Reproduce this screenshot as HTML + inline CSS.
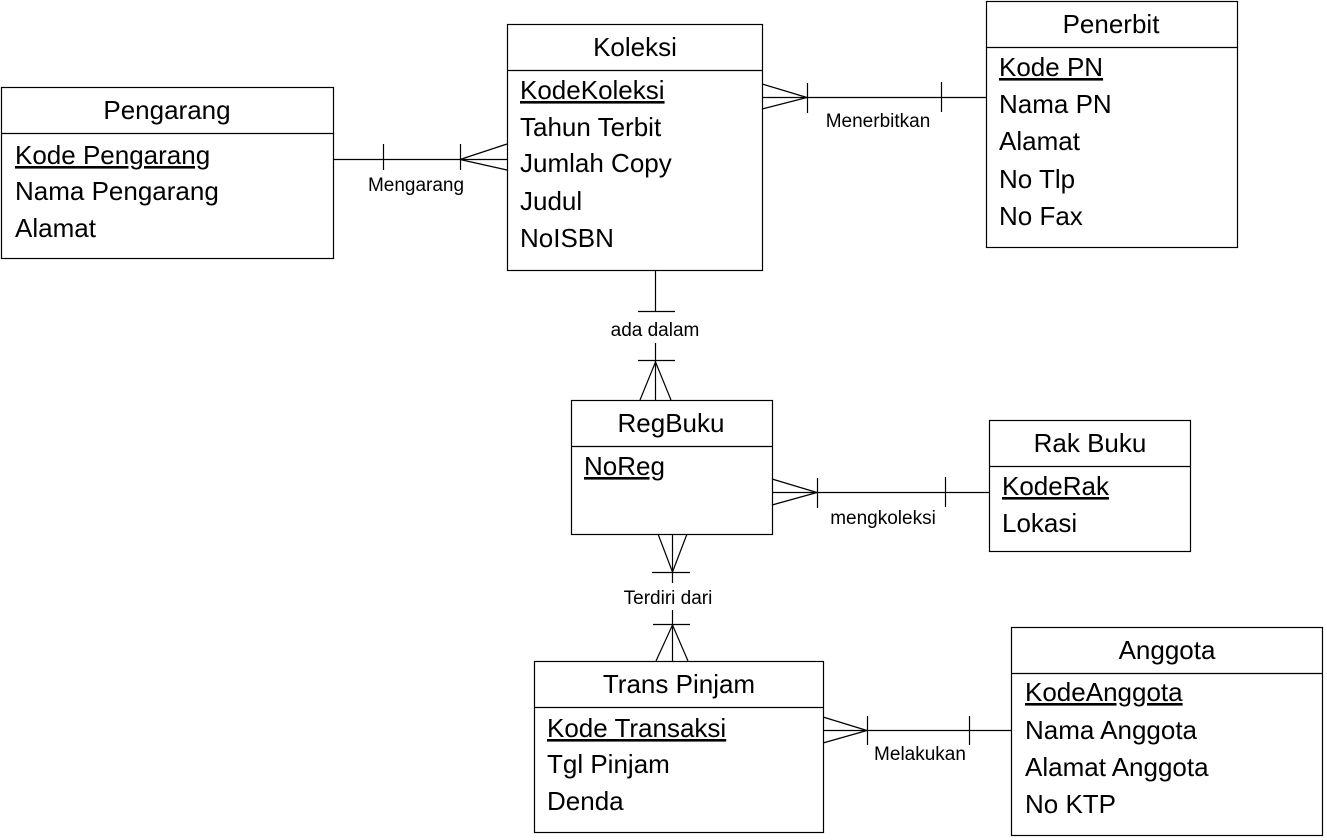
<!DOCTYPE html>
<html><head><meta charset="utf-8"><style>
html,body{margin:0;padding:0;background:#fff;}
svg{display:block;}
text{font-family:"Liberation Sans",Arial,sans-serif;fill:#000;}
.t{font-size:26px;}
.a{font-size:26px;}
.l{font-size:19px;}
</style></head><body>
<svg width="1327" height="840" viewBox="0 0 1327 840" xmlns="http://www.w3.org/2000/svg">
<g fill="none" stroke="#000" stroke-width="1.2">
<!-- Pengarang -->
<rect x="1.5" y="87.5" width="332" height="171"/><line x1="1.5" y1="133.5" x2="333.5" y2="133.5"/>
<!-- Koleksi -->
<rect x="507.5" y="24.5" width="255" height="246"/><line x1="507.5" y1="70.5" x2="762.5" y2="70.5"/>
<!-- Penerbit -->
<rect x="986.5" y="1.5" width="251" height="246"/><line x1="986.5" y1="47.5" x2="1237.5" y2="47.5"/>
<!-- RegBuku -->
<rect x="571.5" y="400.5" width="201" height="134"/><line x1="571.5" y1="446.5" x2="772.5" y2="446.5"/>
<!-- Rak Buku -->
<rect x="989.5" y="420.5" width="201" height="131"/><line x1="989.5" y1="466.5" x2="1190.5" y2="466.5"/>
<!-- Trans Pinjam -->
<rect x="534.5" y="661.5" width="289" height="171"/><line x1="534.5" y1="707.5" x2="823.5" y2="707.5"/>
<!-- Anggota -->
<rect x="1011.5" y="627.5" width="311" height="208"/><line x1="1011.5" y1="673.5" x2="1322.5" y2="673.5"/>

<!-- Mengarang -->
<line x1="334" y1="159.5" x2="507" y2="159.5"/>
<line x1="383.5" y1="144" x2="383.5" y2="170"/>
<line x1="460.5" y1="144" x2="460.5" y2="170"/>
<line x1="460" y1="159.5" x2="507" y2="144"/><line x1="460" y1="159.5" x2="507" y2="170"/>
<!-- Menerbitkan -->
<line x1="762" y1="97.5" x2="986" y2="97.5"/>
<line x1="762" y1="84" x2="807" y2="97.5"/><line x1="762" y1="109" x2="807" y2="97.5"/>
<line x1="807.5" y1="83" x2="807.5" y2="113"/>
<line x1="941.5" y1="82" x2="941.5" y2="112"/>
<!-- ada dalam -->
<line x1="655.5" y1="270" x2="655.5" y2="312"/>
<line x1="638" y1="311.5" x2="675" y2="311.5"/>
<line x1="655.5" y1="343" x2="655.5" y2="400"/>
<line x1="638" y1="360.5" x2="675" y2="360.5"/>
<line x1="655.5" y1="362" x2="640" y2="400"/><line x1="655.5" y1="362" x2="671" y2="400"/>
<!-- mengkoleksi -->
<line x1="772" y1="492.5" x2="989" y2="492.5"/>
<line x1="772" y1="479" x2="817" y2="492.5"/><line x1="772" y1="505" x2="817" y2="492.5"/>
<line x1="817.5" y1="478" x2="817.5" y2="508"/>
<line x1="945.5" y1="477" x2="945.5" y2="507"/>
<!-- Terdiri dari -->
<line x1="672.5" y1="534" x2="672.5" y2="583"/>
<line x1="658" y1="534" x2="672.5" y2="572"/><line x1="687" y1="534" x2="672.5" y2="572"/>
<line x1="652" y1="572.5" x2="690" y2="572.5"/>
<line x1="672.5" y1="610" x2="672.5" y2="661"/>
<line x1="653" y1="624.5" x2="690" y2="624.5"/>
<line x1="672.5" y1="625" x2="656" y2="661"/><line x1="672.5" y1="625" x2="688" y2="661"/>
<!-- Melakukan -->
<line x1="823" y1="730.5" x2="1011" y2="730.5"/>
<line x1="823" y1="717" x2="867" y2="730.5"/><line x1="823" y1="743" x2="867" y2="730.5"/>
<line x1="867.5" y1="716" x2="867.5" y2="745"/>
<line x1="969.5" y1="716" x2="969.5" y2="745"/>
</g>

<!-- label backgrounds not needed -->
<g class="t" text-anchor="middle">
<text x="167" y="119" class="t">Pengarang</text>
<text x="635" y="56" class="t">Koleksi</text>
<text x="1111" y="33" class="t">Penerbit</text>
<text x="671" y="432" class="t">RegBuku</text>
<text x="1090" y="452" class="t">Rak Buku</text>
<text x="679" y="693" class="t">Trans Pinjam</text>
<text x="1167" y="659" class="t">Anggota</text>
</g>
<g class="a">
<text x="15" y="164" text-decoration="underline">Kode Pengarang</text>
<text x="15" y="200">Nama Pengarang</text>
<text x="15" y="237">Alamat</text>

<text x="520" y="99" text-decoration="underline">KodeKoleksi</text>
<text x="520" y="136">Tahun Terbit</text>
<text x="520" y="172">Jumlah Copy</text>
<text x="520" y="210">Judul</text>
<text x="520" y="247">NoISBN</text>

<text x="999" y="76" text-decoration="underline">Kode PN</text>
<text x="999" y="113">Nama PN</text>
<text x="999" y="150">Alamat</text>
<text x="999" y="188">No Tlp</text>
<text x="999" y="225">No Fax</text>

<text x="584" y="475" text-decoration="underline">NoReg</text>

<text x="1002" y="495" text-decoration="underline">KodeRak</text>
<text x="1002" y="532">Lokasi</text>

<text x="547" y="737" text-decoration="underline">Kode Transaksi</text>
<text x="547" y="773">Tgl Pinjam</text>
<text x="547" y="810">Denda</text>

<text x="1025" y="701" text-decoration="underline">KodeAnggota</text>
<text x="1025" y="739">Nama Anggota</text>
<text x="1025" y="776">Alamat Anggota</text>
<text x="1025" y="813">No KTP</text>
</g>
<g class="l" text-anchor="middle">
<text x="416" y="191">Mengarang</text>
<text x="878" y="127">Menerbitkan</text>
<text x="655" y="336">ada dalam</text>
<text x="883" y="524">mengkoleksi</text>
<text x="668" y="604">Terdiri dari</text>
<text x="920" y="760">Melakukan</text>
</g>
</svg>
</body></html>
